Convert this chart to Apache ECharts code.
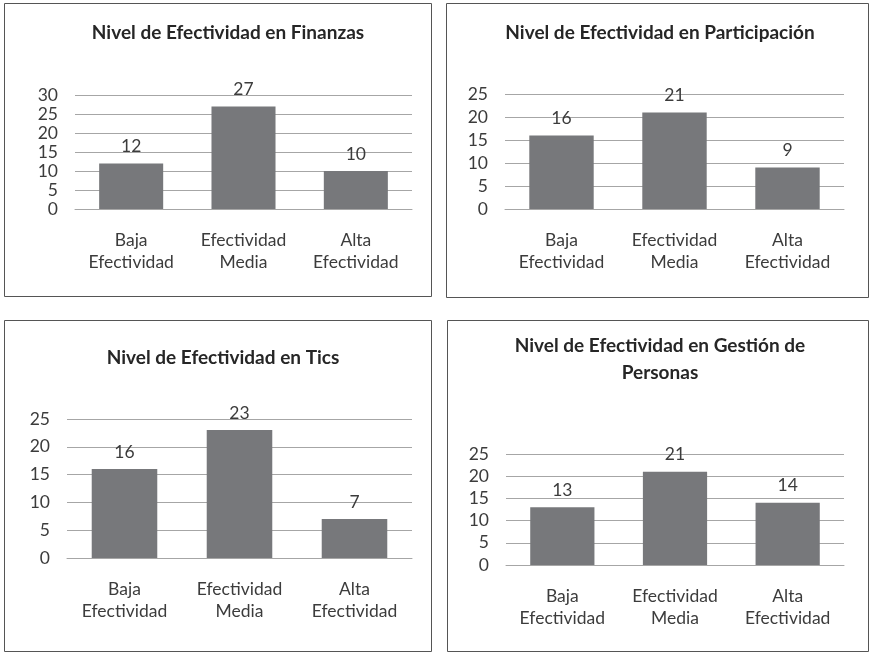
<!DOCTYPE html>
<html>
<head>
<meta charset="utf-8">
<script src="https://cdn.jsdelivr.net/npm/echarts@6/dist/echarts.min.js"></script>
<style>
  html, body { margin: 0; padding: 0; background: #fff; }
  #main { width: 869px; height: 652px; }
</style>
</head>
<body>
<div id="main"></div>
<script>
// categorias comunes a los cuatro graficos
var categories = ['Baja\nEfectividad', 'Efectividad\nMedia', 'Alta\nEfectividad'];
var titles = [
    'Nivel de Efectividad en Finanzas',
    'Nivel de Efectividad en Participación',
    'Nivel de Efectividad en Tics',
    'Nivel de Efectividad en Gestión de\nPersonas'
];
var finanzas = [12, 27, 10];
var participacion = [16, 21, 9];
var tics = [16, 23, 7];
var gestion = [13, 21, 14];
var yMax = [30, 25, 25, 25];

var values = [finanzas, participacion, tics, gestion];

// posiciones de cada panel (marco, titulo, grid)
var panels = [
    { box: [4, 3, 427, 293], title: [223, 14], grid: { left: 75, right: 457, top: 95, bottom: 443 } },
    { box: [446, 3, 422, 294], title: [655, 14], grid: { left: 505, right: 25, top: 94, bottom: 443 } },
    { box: [4, 320, 427, 331], title: [218, 339], grid: { left: 67, right: 457, top: 419, bottom: 94 } },
    { box: [447, 320, 421, 331], title: [655, 327], grid: { left: 506, right: 25, top: 454, bottom: 87 } }
];

var font = 'Lato';
var barColor = '#77787b';
var lineColor = '#a6a6a6';
var textColor = '#3c3c3c';

var title = [], grid = [], xAxis = [], yAxis = [], series = [], graphics = [];
for (var i = 0; i < panels.length; i++) {
    var p = panels[i];
    graphics.push({
        type: 'rect',
        shape: { x: p.box[0] + 0.5, y: p.box[1] + 0.5, width: p.box[2], height: p.box[3] },
        style: { fill: 'none', stroke: '#555', lineWidth: 1 },
        silent: true
    });
    title.push({
        text: titles[i],
        left: p.title[0],
        top: p.title[1],
        textAlign: 'center',
        textStyle: {
            color: '#262626',
            fontFamily: font,
            fontWeight: 'bold',
            fontSize: 19,
            lineHeight: 27
        }
    });
    grid.push(p.grid);
    xAxis.push({
        type: 'category',
        gridIndex: i,
        data: categories,
        axisLine: { lineStyle: { color: lineColor, width: 1 } },
        axisTick: { show: false },
        axisLabel: {
            color: textColor,
            fontFamily: font,
            fontSize: 17.5,
            lineHeight: 22,
            margin: 20,
            interval: 0
        }
    });
    yAxis.push({
        type: 'value',
        gridIndex: i,
        min: 0,
        max: yMax[i],
        interval: 5,
        axisLine: { show: false },
        axisTick: { show: false },
        splitLine: { lineStyle: { color: lineColor, width: 1 } },
        axisLabel: {
            color: textColor,
            fontFamily: font,
            fontSize: 17.5,
            margin: 17
        }
    });
    series.push({
        type: 'bar',
        xAxisIndex: i,
        yAxisIndex: i,
        data: values[i],
        barWidth: '57%',
        itemStyle: { color: barColor },
        label: {
            show: true,
            position: 'top',
            distance: 8,
            color: textColor,
            fontFamily: font,
            fontSize: 17.5
        },
        animation: false
    });
}

var myChart = echarts.init(document.getElementById('main'));
myChart.setOption({
    backgroundColor: '#fff',
    animation: false,
    title: title,
    grid: grid,
    xAxis: xAxis,
    yAxis: yAxis,
    series: series,
    graphic: { elements: graphics }
});
</script>
</body>
</html>
